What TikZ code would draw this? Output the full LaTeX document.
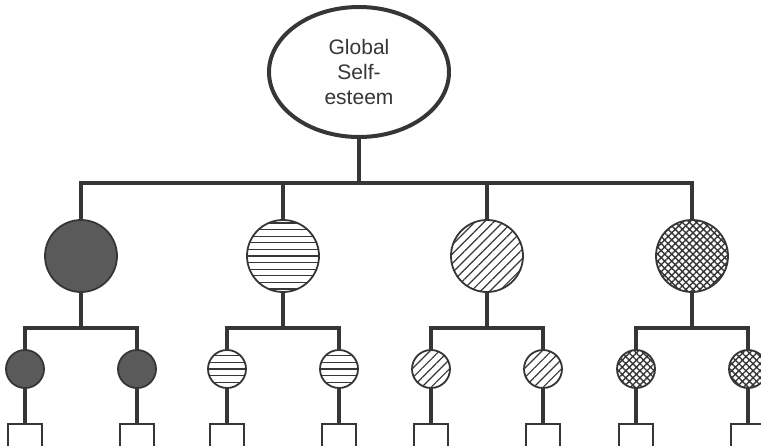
\documentclass[tikz,border=0pt]{standalone}
\usepackage{fontspec}
\setmainfont{Liberation Sans}
\usetikzlibrary{patterns.meta,shapes.geometric}
\definecolor{ink}{HTML}{363636}
\definecolor{shade}{HTML}{5A5A5A}
\begin{document}
\begin{tikzpicture}[x=1pt,y=-1pt,
  link/.style={draw=ink,line width=3.4pt,line join=miter,line cap=rect},
  topnode/.style={ellipse,draw=ink,line width=4pt,minimum width=180pt,minimum height=130pt,
    inner sep=0pt,align=center,font=\fontsize{21}{25}\selectfont,text=ink},
  bigdot/.style={circle,draw=ink,line width=1.8pt,minimum size=72pt,inner sep=0pt},
  smalldot/.style={circle,draw=ink,line width=1.8pt,minimum size=38pt,inner sep=0pt},
  solidfill/.style={fill=shade},
  % evenly spaced horizontal rules clipped to the node outline
  hlines/.style={path picture={
    \foreach \k in {-6,...,6}{
      \draw[ink,line width=1.1pt]
        ([yshift=\k*6.6pt]path picture bounding box.west) --
        ([yshift=\k*6.6pt]path picture bounding box.east);
    }}},
  dlines/.style={pattern={Lines[angle=45,distance=6.6pt,line width=1.2pt]},pattern color=ink},
  xhatch/.style={pattern={Hatch[angle=45,distance=5pt,line width=1.4pt]},pattern color=ink},
  itembox/.style={rectangle,draw=ink,line width=1.2pt,minimum width=34pt,minimum height=34pt,inner sep=0pt}]
\useasboundingbox (0,0) rectangle (761,445);
\clip (0,0) rectangle (761,445);

% root
\node[topnode] (root) at (359,72) {Global\\Self-\\esteem};

% level-one bus
\coordinate (bus) at (0,183);
\coordinate (sub) at (0,328);

% first level
\node[bigdot,solidfill] (c1) at (81,256) {};
\node[bigdot,hlines]    (c2) at (283,256) {};
\node[bigdot,dlines]    (c3) at (487,256) {};
\node[bigdot,xhatch]    (c4) at (692,256) {};

% second level
\node[smalldot,solidfill] (s1a) at (25,369) {};
\node[smalldot,solidfill] (s1b) at (137,369) {};
\node[smalldot,hlines]    (s2a) at (227,369) {};
\node[smalldot,hlines]    (s2b) at (339,369) {};
\node[smalldot,dlines]    (s3a) at (431,369) {};
\node[smalldot,dlines]    (s3b) at (543,369) {};
\node[smalldot,xhatch]    (s4a) at (636,369) {};
\node[smalldot,xhatch]    (s4b) at (748,369) {};

% indicator boxes
\foreach \n/\x in {s1a/25,s1b/137,s2a/227,s2b/339,s3a/431,s3b/543,s4a/636,s4b/748}{
  \node[itembox] (b-\n) at (\x,441) {};
}

% connectors
\draw[link] (root.south) -- (root.south |- bus);
\draw[link] (c1.north) |- (c4.north |- bus) -- (c4.north);
\draw[link] (c2.north) -- (c2.north |- bus);
\draw[link] (c3.north) -- (c3.north |- bus);

\foreach \i in {1,2,3,4}{
  \draw[link] (c\i.south) -- (c\i.south |- sub);
  \draw[link] (s\i a.north) |- (s\i b.north |- sub) -- (s\i b.north);
  \draw[link] (s\i a.south) -- (b-s\i a.north);
  \draw[link] (s\i b.south) -- (b-s\i b.north);
}
\end{tikzpicture}
\end{document}
